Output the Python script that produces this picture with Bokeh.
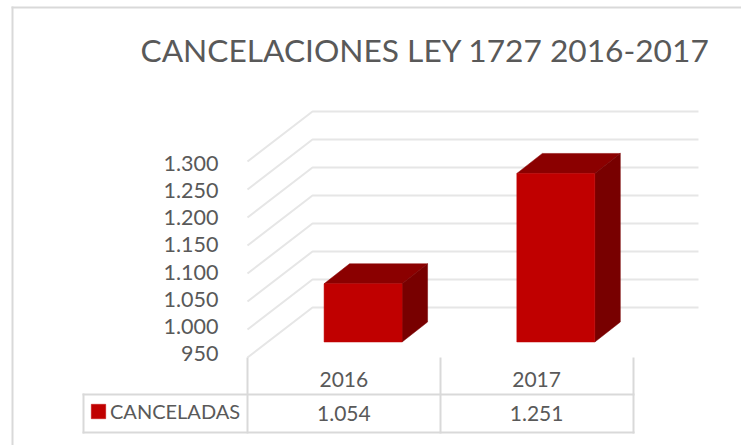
from bokeh.plotting import figure
from bokeh.embed import file_html
from bokeh.resources import INLINE
from bokeh.models import (Range1d, LinearAxis, FixedTicker, BoxAnnotation, Legend, LegendItem, Label)

# ---- data
years = ["2016", "2017"]
canceladas = [1054, 1251]
value_labels = ["1.054", "1.251"]
y_ticks = [950, 1000, 1050, 1100, 1150, 1200, 1250, 1300]
y_tick_labels = ["950", "1.000", "1.050", "1.100", "1.150", "1.200", "1.250", "1.300"]
title_text = "CANCELACIONES LEY 1727 2016-2017"
series_name = "CANCELADAS"

# ---- layout (pixels)
W, H = 741, 445
FLOOR_X = 247
CELL = 192.75
PX_PER_UNIT = 0.56
BAR_BASE_PX = 341.5
FONT = "Lato"
TXT = "#595959"
GRID = "#e6e6e6"
TBL = "#d9d9d9"

dx = lambda px: px / CELL
dy = lambda px: px / PX_PER_UNIT
px_x = lambda px: (px - FLOOR_X) / CELL
px_y = lambda px: 950 - (px - BAR_BASE_PX) / PX_PER_UNIT

p = figure(width=W, height=H, x_range=Range1d(px_x(0), px_x(W)), y_range=Range1d(px_y(H), px_y(0)),
           output_backend="svg", toolbar_location=None, x_axis_type=None, y_axis_type=None,
           min_border=0, outline_line_color=None, background_fill_color=None,
           border_fill_color="white")
p.styles = {"position": "absolute", "left": "0px", "top": "0px"}
p.grid.visible = False

# title
p.add_layout(Label(x=140, y=H - 49, x_units="screen", y_units="screen", text=title_text,
                   text_font=FONT, text_font_size="31.7px", text_color=TXT,
                   text_baseline="alphabetic"))

# value axis (labels only)
lab_scale = (353 - 163) / 350
p.extra_y_ranges = {"labels": Range1d(950 - (H - 353) / lab_scale, 950 + 353 / lab_scale)}
ya = LinearAxis(y_range_name="labels", ticker=FixedTicker(ticks=y_ticks),
                fixed_location=px_x(228),
                major_label_overrides=dict(zip(y_ticks, y_tick_labels)),
                axis_line_color=None, major_tick_line_color=None, minor_tick_line_color=None,
                major_label_text_font=FONT, major_label_text_font_size="21.5px",
                major_label_text_color=TXT, major_label_standoff=4)
p.add_layout(ya, "left")

# walls + floor gridlines
FRONT_DOWN, BACK_X, BACK_UP, RIGHT_X = 15.5, 65, 34.5, 451
xs = [[0, dx(BACK_X), dx(RIGHT_X)] for t in y_ticks]
ys = [[t - dy(FRONT_DOWN), t + dy(BACK_UP), t + dy(BACK_UP)] for t in y_ticks]
p.multi_line(xs, ys, line_color=GRID, line_width=2)

# bars
SHIFT, HALF, DEP_X, DEP_Y = 19.2, 39, 25.5, 20
centers = [i + 0.5 + dx(SHIFT) for i in range(len(years))]
base = y_ticks[0]
top_x, top_y, side_x, side_y = [], [], [], []
for c, v in zip(centers, canceladas):
    l, r = c - dx(HALF), c + dx(HALF)
    top_x.append([l, r, r + dx(DEP_X), l + dx(DEP_X)])
    top_y.append([v, v, v + dy(DEP_Y), v + dy(DEP_Y)])
    side_x.append([r, r + dx(DEP_X), r + dx(DEP_X), r])
    side_y.append([base, base + dy(DEP_Y), v + dy(DEP_Y), v])
p.patches(top_x, top_y, fill_color="#8b0000", line_color="#8b0000", line_width=0.5)
p.patches(side_x, side_y, fill_color="#780000", line_color="#780000", line_width=0.5)
front = p.vbar(x=centers, width=dx(2 * HALF), bottom=base, top=canceladas,
               fill_color="#c00000", line_color="#c00000", line_width=0.5)

# category axes = table rows
tick_pos = [i + 0.5 for i in range(len(years))]
def table_axis(labels, loc_px, standoff):
    return LinearAxis(ticker=FixedTicker(ticks=tick_pos), fixed_location=px_y(loc_px),
                      major_label_overrides=dict(zip(tick_pos, labels)),
                      axis_line_color=None, major_tick_line_color=None, minor_tick_line_color=None,
                      major_label_text_font=FONT, major_label_text_font_size="21px",
                      major_label_text_color=TXT, major_label_standoff=standoff,
                      major_label_orientation="horizontal")
p.add_layout(table_axis(years, 357, 8), "below")
p.add_layout(table_axis(value_labels, 394, 5), "below")

# legend inside the table's first cell
leg = Legend(items=[LegendItem(label=series_name, renderers=[front])],
             location=(89, 22), orientation="horizontal",
             border_line_color=None, background_fill_alpha=0, margin=0, padding=4,
             glyph_width=18, glyph_height=18, label_standoff=3,
             label_text_font=FONT, label_text_font_size="20px", label_text_color=TXT,
             spacing=0)
p.add_layout(leg, "center")

# table rules and chart border, in canvas pixels
def rule(l, r, t, b, color=TBL):
    p.add_layout(BoxAnnotation(left=l, right=r, top=t, bottom=b,
                               left_units="canvas", right_units="canvas",
                               top_units="canvas", bottom_units="canvas",
                               fill_color=color, fill_alpha=1, line_color=None))
for y in (393, 431):
    rule(82, 634, y, y + 2)
for x, t in ((82, 393), (246, 357), (439, 357), (632, 357)):
    rule(x, x + 2, t, 433)
rule(11, 741, 6, 8)
rule(11, 13, 6, 445)

open("out.html", "w").write(file_html(p, INLINE))
